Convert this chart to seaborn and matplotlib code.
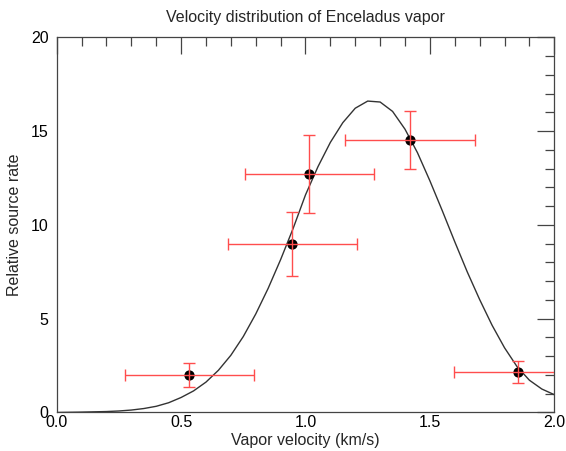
import numpy as np
import pandas as pd
import matplotlib
matplotlib.use("Agg")
import matplotlib.pyplot as plt
import seaborn as sns
from matplotlib.ticker import MultipleLocator, FormatStrFormatter

sns.set_style("white")
plt.rcParams["font.family"] = ["Liberation Sans", "DejaVu Sans"]

# pontos medidos (velocidade, taxa) e barras de erro
vel = [0.533, 0.947, 1.015, 1.420, 1.856]
taxa = [2.02, 8.98, 12.71, 14.52, 2.17]
erro_vel = [0.26, 0.26, 0.26, 0.26, 0.26]
erro_taxa = [0.64, 1.73, 2.07, 1.55, 0.60]

# curva ajustada
curva_x = [0.0, 0.1, 0.2, 0.25, 0.3, 0.35, 0.4, 0.45, 0.5, 0.55, 0.6, 0.65, 0.7,
           0.75, 0.8, 0.85, 0.9, 0.95, 1.0, 1.05, 1.1, 1.15, 1.2, 1.25, 1.3,
           1.35, 1.4, 1.45, 1.5, 1.55, 1.6, 1.65, 1.7, 1.75, 1.8, 1.85, 1.9,
           1.95, 2.0]
curva_y = [0.0, 0.02, 0.05, 0.08, 0.13, 0.21, 0.33, 0.52, 0.80, 1.15, 1.62, 2.25,
           3.05, 4.05, 5.25, 6.62, 8.15, 9.8, 11.6, 13.1, 14.4, 15.45, 16.22,
           16.6, 16.55, 16.05, 15.1, 13.85, 12.35, 10.75, 9.1, 7.5, 6.02, 4.65,
           3.45, 2.45, 1.72, 1.25, 0.95]

df_pts = pd.DataFrame({"vel": vel, "taxa": taxa})
df_curva = pd.DataFrame({"x": curva_x, "y": curva_y})

fig = plt.figure(figsize=(5.66, 4.51), dpi=100)
ax = fig.add_axes([0.1002, 0.0854, 0.8791, 0.8319])

sns.lineplot(data=df_curva, x="x", y="y", ax=ax, color="#333333", linewidth=1.0,
             zorder=2)
sns.scatterplot(data=df_pts, x="vel", y="taxa", ax=ax, color="black", s=55,
                edgecolor="black", linewidth=0, zorder=3)
ax.errorbar(vel, taxa, xerr=erro_vel, yerr=erro_taxa, fmt="none",
            ecolor="#ff4d4d", elinewidth=1.0, capsize=4.5, capthick=1.0,
            zorder=4, clip_on=True)

ax.set_xlim(0, 2)
ax.set_ylim(0, 20)
ax.xaxis.set_major_locator(MultipleLocator(0.5))
ax.xaxis.set_minor_locator(MultipleLocator(0.1))
ax.yaxis.set_major_locator(MultipleLocator(5))
ax.yaxis.set_minor_locator(MultipleLocator(1))
ax.xaxis.set_major_formatter(FormatStrFormatter("%.1f"))

ax.tick_params(which="both", direction="in", top=True, right=True,
               color="#444444", width=0.9, labelsize=11.5, labelcolor="black")
ax.tick_params(which="major", length=12.5)
ax.tick_params(which="minor", length=6.5)
ax.tick_params(axis="x", which="major", pad=2)
ax.tick_params(axis="y", which="major", pad=6)

for s in ax.spines.values():
    s.set_color("#444444")
    s.set_linewidth(0.9)

ax.set_title("Velocity distribution of Enceladus vapor", fontsize=11.5, pad=11)
ax.set_xlabel("Vapor velocity (km/s)", fontsize=11.5, labelpad=2)
ax.set_ylabel("Relative source rate", fontsize=11.5, labelpad=6)

fig.savefig("out.png", dpi=100)
